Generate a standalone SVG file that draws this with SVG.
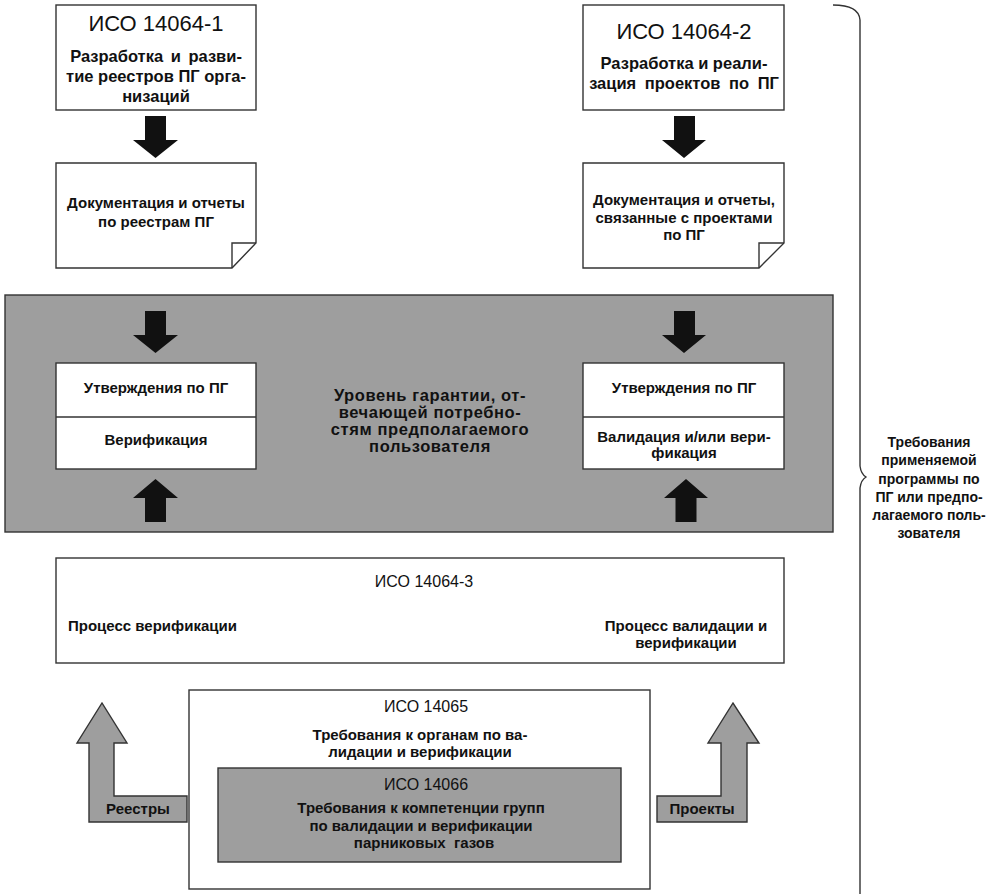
<svg xmlns="http://www.w3.org/2000/svg" width="997" height="894" viewBox="0 0 997 894">
<style>
text{font-family:"Liberation Sans",Arial,sans-serif;fill:#111;text-anchor:middle}
.t{font-size:22px}
.b{font-size:16.5px;font-weight:bold}
.d{font-size:15px;font-weight:bold}
.c{font-size:16.5px;font-weight:bold;letter-spacing:0.6px}
.q{font-size:14px;font-weight:bold}
.s{font-size:16px}
.box{fill:#fff;stroke:#333;stroke-width:1.4}
.gray{fill:#9e9e9e;stroke:#333;stroke-width:1.4}
.blk{fill:#111}
.garr{fill:#9e9e9e;stroke:#333;stroke-width:1.4}
.ln{fill:none;stroke:#333;stroke-width:1.4}
</style>
<rect width="997" height="894" fill="#fff"/>
<g id="iso14064-1">
<rect class="box" x="56" y="5" width="200" height="105"/>
<text class="t" x="156" y="31">ИСО 14064-1</text>
<text class="b" x="156" y="62" word-spacing="3">Разработка и разви-</text>
<text class="b" x="156" y="82">тие реестров ПГ орга-</text>
<text class="b" x="156" y="102">низаций</text>
</g>
<g id="iso14064-2">
<rect class="box" x="583" y="5" width="201" height="105"/>
<text class="t" x="684" y="39">ИСО 14064-2</text>
<text class="b" x="684" y="69">Разработка и реали-</text>
<text class="b" x="684" y="89" word-spacing="4">зация проектов по ПГ</text>
</g>
<g id="doc1">
<path class="box" d="M56,163 H256 V243 L232,268 H56 Z"/>
<path class="ln" d="M256,243 H232 V268"/>
<text class="d" x="156" y="208">Документация и отчеты</text>
<text class="d" x="156" y="227">по реестрам ПГ</text>
</g>
<g id="doc2">
<path class="box" d="M583,163 H784 V243 L759,268 H583 Z"/>
<path class="ln" d="M784,243 H759 V268"/>
<text class="d" x="684" y="205">Документация и отчеты,</text>
<text class="d" x="684" y="223">связанные с проектами</text>
<text class="d" x="684" y="240">по ПГ</text>
</g>
<g id="assurance">
<rect class="gray" x="5" y="295" width="828" height="237"/>
<text class="c" x="430" y="401">Уровень гарантии, от-</text>
<text class="c" x="430" y="418">вечающей потребно-</text>
<text class="c" x="430" y="435">стям предполагаемого</text>
<text class="c" x="430" y="452">пользователя</text>
</g>
<g id="claims1">
<rect class="box" x="56" y="363" width="200" height="106"/>
<line class="ln" x1="56" y1="417" x2="256" y2="417"/>
<text class="d" x="156" y="393">Утверждения по ПГ</text>
<text class="d" x="156" y="445">Верификация</text>
</g>
<g id="claims2">
<rect class="box" x="583" y="363" width="201" height="106"/>
<line class="ln" x1="583" y1="417" x2="784" y2="417"/>
<text class="d" x="684" y="393">Утверждения по ПГ</text>
<text class="d" x="684" y="442">Валидация и/или вери-</text>
<text class="d" x="684" y="458">фикация</text>
</g>
<g id="iso14064-3">
<rect class="box" x="56" y="558" width="728" height="105"/>
<text class="s" x="424" y="587">ИСО 14064-3</text>
<text class="d" x="68" y="631" style="text-anchor:start">Процесс верификации</text>
<text class="d" x="686" y="631">Процесс валидации и</text>
<text class="d" x="686" y="648">верификации</text>
</g>
<g id="iso14065">
<rect class="box" x="189" y="690" width="461" height="199"/>
<text class="s" x="426" y="712">ИСО 14065</text>
<text class="d" x="420" y="740">Требования к органам по ва-</text>
<text class="d" x="420" y="757">лидации и верификации</text>
</g>
<g id="iso14066">
<rect class="gray" x="218" y="768" width="403" height="94"/>
<text class="s" x="426" y="790">ИСО 14066</text>
<text class="d" x="421" y="813">Требования к компетенции групп</text>
<text class="d" x="421" y="831">по валидации и верификации</text>
<text class="d" x="424" y="848" style="white-space:pre">парниковых  газов</text>
</g>
<g id="registries">
<path class="garr" d="M187,796 H114 V743 H127 L102,703 L77,743 H89 V822 H187 Z"/>
<text class="d" x="138" y="814">Реестры</text>
</g>
<g id="projects">
<path class="garr" d="M657,796 H721 V743 H708 L733,703 L759,743 H747 V822 H657 Z"/>
<text class="d" x="702" y="814">Проекты</text>
</g>
<g id="requirements">
<path class="ln" d="M833,5 Q859,5 860,20 V466 Q861,474 866,477 Q861,480 860,488 V894"/>
<text class="q" x="929" y="447">Требования</text>
<text class="q" x="929" y="465">применяемой</text>
<text class="q" x="929" y="484">программы по</text>
<text class="q" x="929" y="502">ПГ или предпо-</text>
<text class="q" x="929" y="520">лагаемого поль-</text>
<text class="q" x="929" y="538">зователя</text>
</g>
<g id="connectors">
<path class="blk" d="M145,116 H166 V140 H178 L155.5,158 L133,140 H145 Z"/>
<path class="blk" d="M674,116 H695 V140 H706 L684,158 L662,140 H674 Z"/>
<path class="blk" d="M145,311 H166 V335 H178 L155.5,353 L133,335 H145 Z"/>
<path class="blk" d="M674,311 H695 V335 H706 L684,353 L662,335 H674 Z"/>
<path class="blk" d="M155.5,479 L178,498 H166 V522 H145 V498 H133 Z"/>
<path class="blk" d="M686,479 L708,498 H696.5 V522 H675.5 V498 H664 Z"/>
</g>
</svg>
